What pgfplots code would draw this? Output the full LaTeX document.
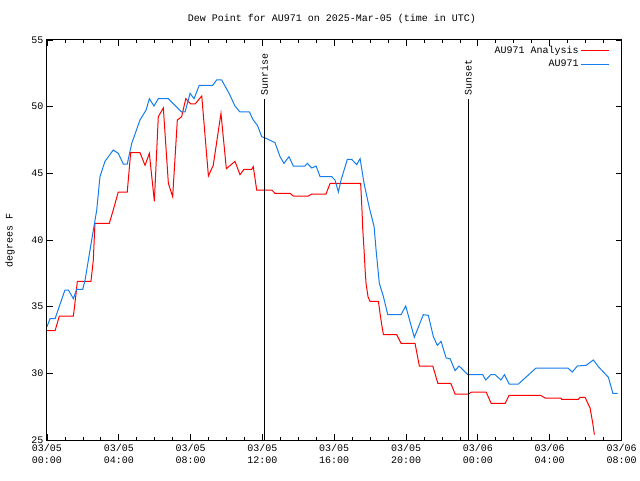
\documentclass[border=0pt]{standalone}
\usepackage{pgfplots}
\pgfplotsset{compat=1.18}
\usepackage{fontspec}
\setmainfont{Liberation Mono}
\definecolor{ablue}{RGB}{20,125,235}
\definecolor{ared}{RGB}{255,0,0}
\begin{document}
\begin{tikzpicture}[x=1pt,y=1pt]
\useasboundingbox (0,0) rectangle (640,480);
\node[font=\fontsize{10}{12}\selectfont] at (332,461) {Dew Point for AU971 on 2025-Mar-05 (time in UTC)};
\node[font=\fontsize{10}{12}\selectfont,rotate=90] at (10,240) {degrees F};
\begin{axis}[
  at={(47pt,40pt)}, anchor=south west,
  scale only axis, width=574.5pt, height=400pt,
  xmin=0, xmax=32, ymin=25, ymax=55,
  xtick={0,4,...,32},
  minor xtick={1,2,3,5,6,7,9,10,11,13,14,15,17,18,19,21,22,23,25,26,27,29,30,31},
  xticklabels={03/05\\00:00,03/05\\04:00,03/05\\08:00,03/05\\12:00,03/05\\16:00,03/05\\20:00,03/06\\00:00,03/06\\04:00,03/06\\08:00},
  xticklabel style={align=center, font=\fontsize{10}{12}\selectfont, yshift=-1pt},
  ytick={25,30,...,55},
  yticklabel style={font=\fontsize{10}{12}\selectfont},
  /pgf/number format/assume math mode=true,
  tick align=inside,
  major tick length=6pt, minor tick length=3pt,
  major tick style={black, line width=0.8pt},
  minor tick style={black, line width=0.8pt},
  axis line style={line width=1pt},
  legend style={draw=none, fill=none, at={(0.985,0.995)}, anchor=north east, font=\fontsize{10}{12}\selectfont, row sep=1pt},
  legend cell align=right,
  legend plot pos=right,
  legend image code/.code={\draw[mark repeat=2,mark phase=2,#1] plot coordinates {(0pt,0pt) (14pt,0pt) (28pt,0pt)};},
]
\addplot[ared, line width=1pt] coordinates {
(0.0,33.2) (0.45,33.2) (0.69,34.3) (1.47,34.3) (1.62,36.0) (1.69,36.9) (2.45,36.9) (2.58,38.5) (2.67,41.25) (3.47,41.25) (3.69,42.25) (3.97,43.6) (4.47,43.6) (4.66,46.55) (5.18,46.55) (5.46,45.6) (5.70,46.5) (5.98,42.9) (6.20,49.25) (6.48,49.9) (6.76,44.25) (7.00,43.25) (7.26,49.0) (7.50,49.25) (7.73,50.6) (8.01,50.2) (8.25,50.2) (8.62,50.8) (8.99,44.8) (9.26,45.6) (9.69,49.5) (9.99,45.35) (10.47,45.9) (10.75,44.9) (10.97,45.3) (11.40,45.3) (11.49,45.5) (11.68,43.75) (12.52,43.75) (12.70,43.5) (13.54,43.5) (13.72,43.3) (14.56,43.3) (14.75,43.45) (15.54,43.45) (15.77,44.25) (17.47,44.25) (17.55,42.1) (17.59,40.75) (17.66,39.25) (17.72,37.75) (17.77,36.75) (17.88,35.75) (17.99,35.4) (18.46,35.4) (18.55,34.5) (18.65,33.6) (18.74,32.9) (19.48,32.9) (19.72,32.25) (20.50,32.25) (20.74,30.55) (21.49,30.55) (21.77,29.25) (22.49,29.25) (22.73,28.45) (23.47,28.45) (23.66,28.6) (24.46,28.6) (24.74,27.75) (25.52,27.75) (25.74,28.35) (27.50,28.35) (27.74,28.15) (28.62,28.15) (28.67,28.05) (29.60,28.05) (29.69,28.2) (29.97,28.2) (30.25,27.4) (30.40,26.25) (30.49,25.4)
};
\addlegendentry{AU971 Analysis}
\addplot[ablue, line width=1pt] coordinates {
(0.0,33.5) (0.17,34.1) (0.45,34.1) (1.0,36.25) (1.19,36.25) (1.47,35.6) (1.65,36.3) (1.99,36.3) (2.12,37.0) (2.49,40.0) (2.77,42.25) (2.95,44.75) (3.23,45.9) (3.69,46.75) (3.97,46.5) (4.25,45.7) (4.47,45.7) (4.72,47.25) (5.18,49.0) (5.52,49.75) (5.70,50.6) (5.96,50.05) (6.20,50.6) (6.76,50.6) (7.50,49.6) (7.69,49.6) (7.97,51.0) (8.19,50.6) (8.48,51.6) (9.23,51.6) (9.45,52.0) (9.73,52.0) (10.16,50.95) (10.47,50.05) (10.75,49.6) (11.27,49.6) (11.49,49.0) (11.72,48.6) (11.96,47.75) (12.24,47.6) (12.70,47.3) (12.98,46.25) (13.20,45.75) (13.48,46.25) (13.72,45.55) (14.37,45.55) (14.50,45.75) (14.75,45.4) (14.99,45.55) (15.21,44.75) (15.86,44.75) (16.04,44.5) (16.23,43.6) (16.38,44.5) (16.73,46.05) (16.97,46.05) (17.25,45.65) (17.44,46.1) (17.66,44.25) (17.94,42.5) (18.22,41.0) (18.33,39.25) (18.51,36.75) (18.74,35.75) (18.98,34.4) (19.72,34.4) (19.98,35.05) (20.46,32.7) (20.96,34.4) (21.24,34.35) (21.52,32.75) (21.74,32.1) (21.95,32.4) (22.23,31.15) (22.45,31.1) (22.73,30.2) (22.95,30.55) (23.44,29.9) (24.27,29.9) (24.44,29.5) (24.72,29.9) (24.96,29.9) (25.28,29.5) (25.48,29.9) (25.74,29.2) (26.26,29.2) (27.24,30.4) (29.01,30.4) (29.26,30.1) (29.54,30.55) (30.03,30.6) (30.43,31.0) (30.71,30.5) (31.27,29.7) (31.52,28.5) (31.79,28.5)
};
\addlegendentry{AU971}
\addplot[black, line width=1pt, forget plot] coordinates {(12.1,25) (12.1,50.6)};
\addplot[black, line width=1pt, forget plot] coordinates {(23.47,25) (23.47,50.6)};
\node[rotate=90, anchor=west, font=\fontsize{10}{12}\selectfont, inner sep=1pt] at (axis cs:12.1,50.75) {Sunrise};
\node[rotate=90, anchor=west, font=\fontsize{10}{12}\selectfont, inner sep=1pt] at (axis cs:23.47,50.75) {Sunset};
\end{axis}
\end{tikzpicture}
\end{document}
